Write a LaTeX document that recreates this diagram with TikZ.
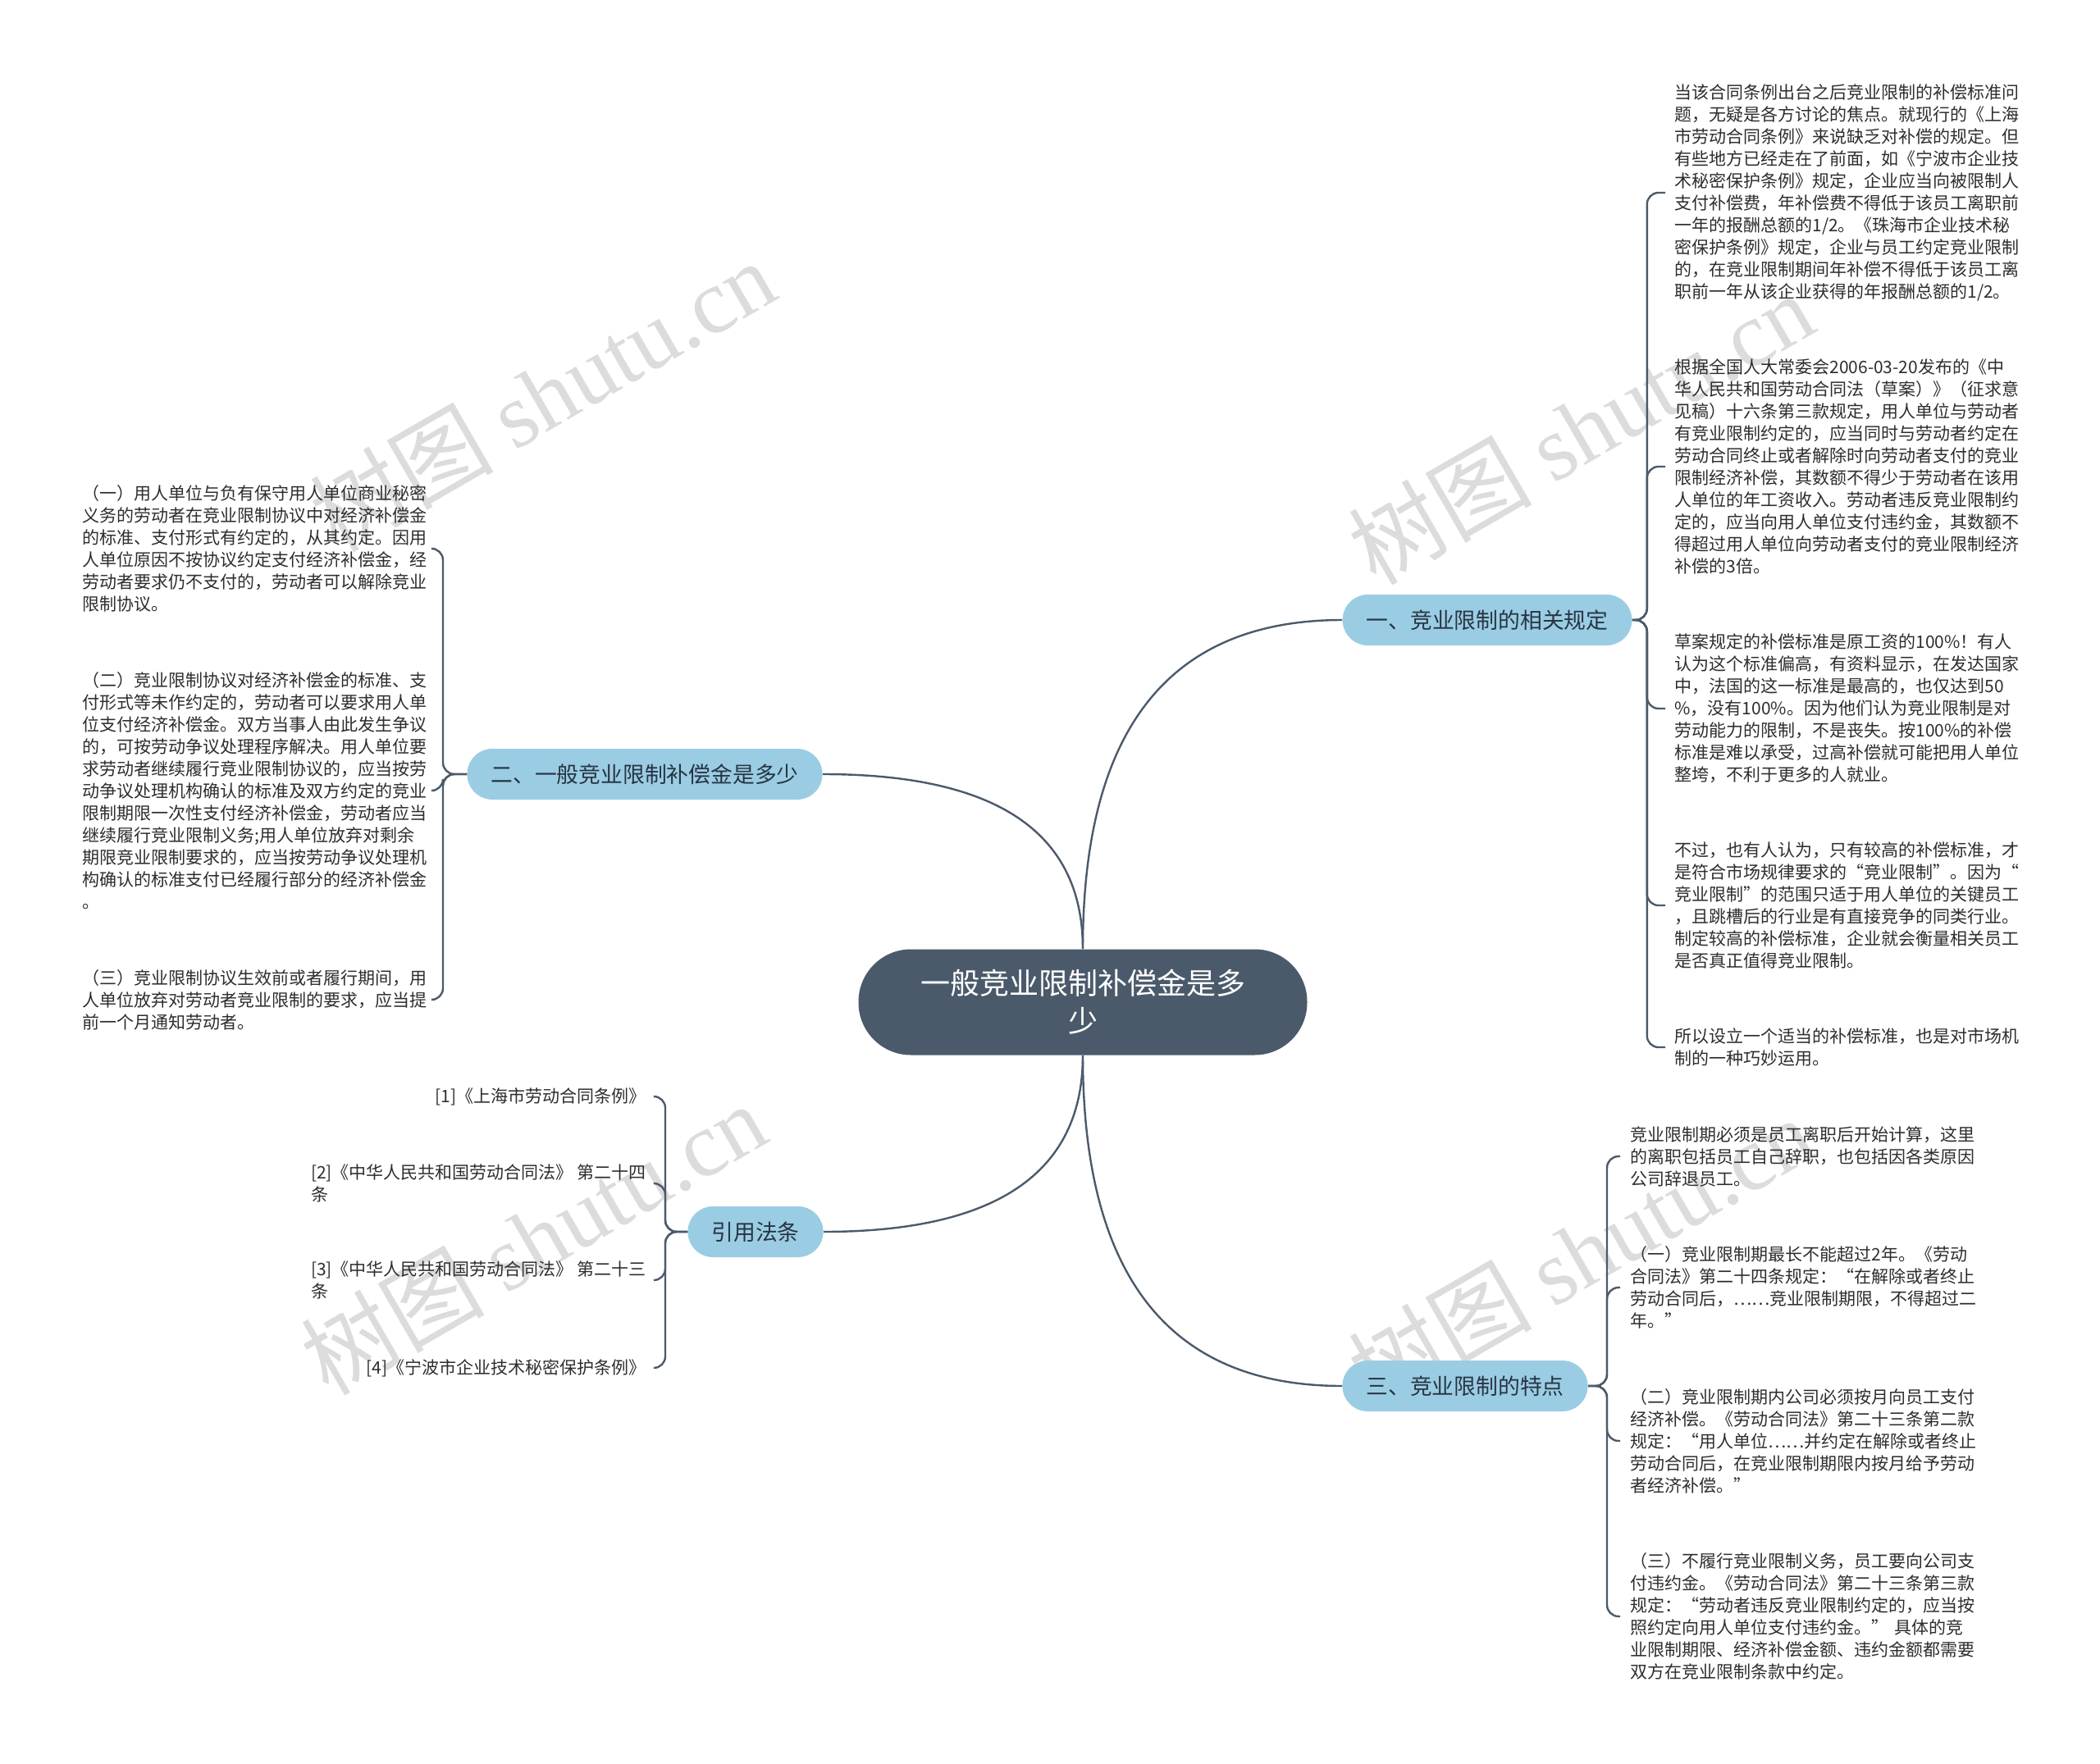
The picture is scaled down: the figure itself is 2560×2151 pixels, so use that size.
\documentclass[tikz,border=0pt]{standalone}
\usepackage{fontspec}
\setmainfont{Noto Sans CJK SC}
\newfontfamily\wmlatin{Liberation Serif}
\usepackage{tikz}
\usetikzlibrary{calc}
\definecolor{slate}{RGB}{75,90,106}
\definecolor{sky}{RGB}{154,205,228}
\definecolor{ink}{RGB}{40,52,66}
\definecolor{body}{RGB}{45,45,45}
\definecolor{wm}{RGB}{220,220,220}
\tikzset{
  topic/.style={fill=slate, rounded corners=32pt, text=white, align=center,
    minimum width=273.5pt, minimum height=64.5pt, font=\fontsize{18}{23}\selectfont},
  branch/.style={fill=sky, rounded corners=15.5pt, text=ink, inner xsep=14.5pt,
    minimum height=31pt, font=\fontsize{13.4}{16}\selectfont},
  leaf/.style={text=body, align=left, inner xsep=5.5pt, inner ysep=0pt, text width=212pt,
    font=\fontsize{10.5}{13.5}\selectfont},
  cite/.style={text=body, align=left, inner xsep=5pt, inner ysep=0pt, anchor=east,
    font=\fontsize{10.5}{13.5}\selectfont},
  link/.style={draw=slate, line width=1.2pt},
  brace/.style={draw=slate, line width=1.2pt, rounded corners=7pt},
  % 水印
  wmark/.style={text=wm, rotate=30, font=\fontsize{56}{60}\selectfont}
}

\begin{document}
\begin{tikzpicture}[x=0.5pt, y=-0.5pt]
    \useasboundingbox (0,0) rectangle (2560,2151);

    % 水印
    \node[wmark] (wm1) at (661,482) {树图 {\wmlatin shutu.cn}};
    \node[wmark] (wm2) at (1927,522) {树图 {\wmlatin shutu.cn}};
    \node[wmark] (wm3) at (650,1510) {树图 {\wmlatin shutu.cn}};
    \node[wmark] (wm4) at (1927,1527) {树图 {\wmlatin shutu.cn}};

    \node[topic] (root) at (1320,1222) {一般竞业限制补偿金是多\\少};

    \node[branch] (rules) at (1813,756) {一、竞业限制的相关规定};
    \node[branch] (amount) at (786,944) {二、一般竞业限制补偿金是多少};
    \node[branch] (laws) at (921,1502) {引用法条};
    \node[branch] (traits) at (1786,1690) {三、竞业限制的特点};

    \draw[link] (root.north) .. controls +(0,-268) and +(-211,0) .. (rules.west);
    \draw[link] (root.north) .. controls +(0,-143) and +(211,0) .. (amount.east);
    \draw[link] (root.south) .. controls +(0,143) and +(211,0) .. (laws.east);
    \draw[link] (root.south) .. controls +(0,269) and +(-211,0) .. (traits.west);

    % 一、相关规定
    \node[leaf, anchor=west] (r1) at (2030,235) {当该合同条例出台之后竞业限制的补偿标准问\\题，无疑是各方讨论的焦点。就现行的《上海\\市劳动合同条例》来说缺乏对补偿的规定。但\\有些地方已经走在了前面，如《宁波市企业技\\术秘密保护条例》规定，企业应当向被限制人\\支付补偿费，年补偿费不得低于该员工离职前\\一年的报酬总额的1/2。《珠海市企业技术秘\\密保护条例》规定，企业与员工约定竞业限制\\的，在竞业限制期间年补偿不得低于该员工离\\职前一年从该企业获得的年报酬总额的1/2。};
    \node[leaf, anchor=west] (r2) at (2030,569) {根据全国人大常委会2006-03-20发布的《中\\华人民共和国劳动合同法（草案）》（征求意\\见稿）十六条第三款规定，用人单位与劳动者\\有竞业限制约定的，应当同时与劳动者约定在\\劳动合同终止或者解除时向劳动者支付的竞业\\限制经济补偿，其数额不得少于劳动者在该用\\人单位的年工资收入。劳动者违反竞业限制约\\定的，应当向用人单位支付违约金，其数额不\\得超过用人单位向劳动者支付的竞业限制经济\\补偿的3倍。};
    \node[leaf, anchor=west] (r3) at (2030,864) {草案规定的补偿标准是原工资的100\%！有人\\认为这个标准偏高，有资料显示，在发达国家\\中，法国的这一标准是最高的，也仅达到50\\\%，没有100\%。因为他们认为竞业限制是对\\劳动能力的限制，不是丧失。按100\%的补偿\\标准是难以承受，过高补偿就可能把用人单位\\整垮，不利于更多的人就业。};
    \node[leaf, anchor=west] (r4) at (2030,1104) {不过，也有人认为，只有较高的补偿标准，才\\是符合市场规律要求的“竞业限制”。因为“\\竞业限制”的范围只适于用人单位的关键员工\\，且跳槽后的行业是有直接竞争的同类行业。\\制定较高的补偿标准，企业就会衡量相关员工\\是否真正值得竞业限制。};
    \node[leaf, anchor=west] (r5) at (2030,1277) {所以设立一个适当的补偿标准，也是对市场机\\制的一种巧妙运用。};

    \draw[brace] (rules.east) -- ++(18,0) |- (r1.west);
    \draw[brace] (rules.east) -- ++(18,0) |- (r2.west);
    \draw[brace] (rules.east) -- ++(18,0) |- (r3.west);
    \draw[brace] (rules.east) -- ++(18,0) |- (r4.west);
    \draw[brace] (rules.east) -- ++(18,0) |- (r5.west);

    % 二、补偿金
    \node[leaf, anchor=east, text width=209pt] (a1) at (530,669) {（一）用人单位与负有保守用人单位商业秘密\\义务的劳动者在竞业限制协议中对经济补偿金\\的标准、支付形式有约定的，从其约定。因用\\人单位原因不按协议约定支付经济补偿金，经\\劳动者要求仍不支付的，劳动者可以解除竞业\\限制协议。};
    \node[leaf, anchor=east, text width=209pt] (a2) at (530,964) {（二）竞业限制协议对经济补偿金的标准、支\\付形式等未作约定的，劳动者可以要求用人单\\位支付经济补偿金。双方当事人由此发生争议\\的，可按劳动争议处理程序解决。用人单位要\\求劳动者继续履行竞业限制协议的，应当按劳\\动争议处理机构确认的标准及双方约定的竞业\\限制期限一次性支付经济补偿金，劳动者应当\\继续履行竞业限制义务;用人单位放弃对剩余\\期限竞业限制要求的，应当按劳动争议处理机\\构确认的标准支付已经履行部分的经济补偿金\\。};
    \node[leaf, anchor=east, text width=209pt] (a3) at (530,1219) {（三）竞业限制协议生效前或者履行期间，用\\人单位放弃对劳动者竞业限制的要求，应当提\\前一个月通知劳动者。};

    \draw[brace] (amount.west) -- ++(-29,0) |- (a1.east);
    \draw[brace] (amount.west) -- ++(-29,0) |- (a2.east);
    \draw[brace] (amount.west) -- ++(-29,0) |- (a3.east);

    % 引用法条
    \node[cite] (c1) at (798,1337) {[1]《上海市劳动合同条例》};
    \node[cite] (c2) at (798,1443) {[2]《中华人民共和国劳动合同法》 第二十四\\条};
    \node[cite] (c3) at (798,1561) {[3]《中华人民共和国劳动合同法》 第二十三\\条};
    \node[cite] (c4) at (798,1668) {[4]《宁波市企业技术秘密保护条例》};

    \draw[brace] (laws.west) -- ++(-27,0) |- (c1.east);
    \draw[brace] (laws.west) -- ++(-27,0) |- (c2.east);
    \draw[brace] (laws.west) -- ++(-27,0) |- (c3.east);
    \draw[brace] (laws.west) -- ++(-27,0) |- (c4.east);

    % 三、特点
    \node[leaf, anchor=west, inner xsep=6pt] (t1) at (1975,1410) {竞业限制期必须是员工离职后开始计算，这里\\的离职包括员工自己辞职，也包括因各类原因\\公司辞退员工。};
    \node[leaf, anchor=west, inner xsep=6pt] (t2) at (1975,1570) {（一）竞业限制期最长不能超过2年。《劳动\\合同法》第二十四条规定：“在解除或者终止\\劳动合同后，……竞业限制期限，不得超过二\\年。”};
    \node[leaf, anchor=west, inner xsep=6pt] (t3) at (1975,1757) {（二）竞业限制期内公司必须按月向员工支付\\经济补偿。《劳动合同法》第二十三条第二款\\规定：“用人单位……并约定在解除或者终止\\劳动合同后，在竞业限制期限内按月给予劳动\\者经济补偿。”};
    \node[leaf, anchor=west, inner xsep=6pt] (t4) at (1975,1971) {（三）不履行竞业限制义务，员工要向公司支\\付违约金。《劳动合同法》第二十三条第三款\\规定：“劳动者违反竞业限制约定的，应当按\\照约定向用人单位支付违约金。” 具体的竞\\业限制期限、经济补偿金额、违约金额都需要\\双方在竞业限制条款中约定。};

    \draw[brace] (traits.east) -- ++(23,0) |- (t1.west);
    \draw[brace] (traits.east) -- ++(23,0) |- (t2.west);
    \draw[brace] (traits.east) -- ++(23,0) |- (t3.west);
    \draw[brace] (traits.east) -- ++(23,0) |- (t4.west);
  \end{tikzpicture}
\end{document}
